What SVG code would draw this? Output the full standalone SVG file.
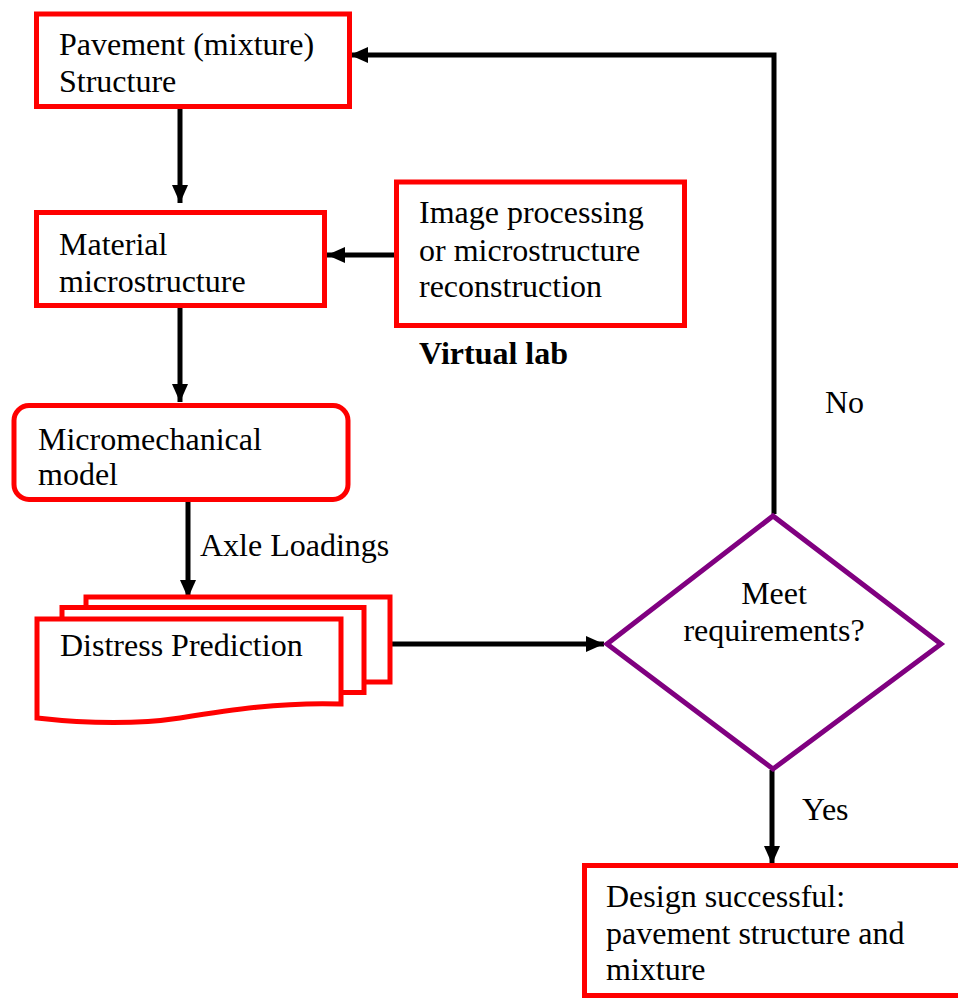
<svg xmlns="http://www.w3.org/2000/svg" width="958" height="998" viewBox="0 0 958 998">
<style>
.box{fill:#fff;stroke:#ff0000;stroke-width:5}
.dia{fill:#fff;stroke:#800080;stroke-width:5;stroke-linejoin:miter}
.conn{fill:none;stroke:#000;stroke-width:5}
text{font-family:"Liberation Serif","Times New Roman",serif;font-size:32px;fill:#000}
.bold{font-weight:bold}
</style>
<defs>
<marker id="ah" markerUnits="userSpaceOnUse" markerWidth="18" markerHeight="16" refX="18" refY="8" orient="auto">
<path d="M0,0 L18,8 L0,16 z" fill="#000"/>
</marker>
</defs>
<rect width="958" height="998" fill="#fff"/>
<g id="connectors">
<line class="conn" x1="180" y1="109" x2="180" y2="203" marker-end="url(#ah)"/>
<line class="conn" x1="396" y1="255" x2="327" y2="255" marker-end="url(#ah)"/>
<line class="conn" x1="180" y1="308" x2="180" y2="402" marker-end="url(#ah)"/>
<line class="conn" x1="188" y1="502" x2="188" y2="598" marker-end="url(#ah)"/>
<line class="conn" x1="392" y1="644" x2="604" y2="644" marker-end="url(#ah)"/>
<line class="conn" x1="772" y1="770" x2="772" y2="864" marker-end="url(#ah)"/>
<path class="conn" d="M774,514 V55 H350" marker-end="url(#ah)"/>
</g>
<g id="pavement">
<rect class="box" x="36.5" y="14" width="313" height="92.5"/>
<text x="59" y="55">Pavement (mixture)</text>
<text x="59" y="92">Structure</text>
</g>
<g id="material">
<rect class="box" x="36.5" y="212.5" width="288" height="93"/>
<text x="59" y="255">Material</text>
<text x="59" y="292">microstructure</text>
</g>
<g id="image">
<rect class="box" x="396.5" y="182" width="288" height="143.5"/>
<text x="419" y="223">Image processing</text>
<text x="419" y="261">or microstructure</text>
<text x="419" y="297">reconstruction</text>
</g>
<g id="virtual-lab">
<text class="bold" x="419" y="364">Virtual lab</text>
</g>
<g id="micromechanical">
<rect class="box" x="14" y="405.5" width="334" height="94" rx="15" ry="15"/>
<text x="38" y="450">Micromechanical</text>
<text x="38" y="485">model</text>
</g>
<g id="axle-label">
<text x="200" y="556">Axle Loadings</text>
</g>
<g id="distress">
<rect class="box" x="86" y="597" width="304" height="85"/>
<rect class="box" x="62" y="607.5" width="302" height="85"/>
<path class="box" d="M37,619 H341 V704 C280,702 230,710 180,718 C140,724 90,724 37,718 Z"/>
<text x="60" y="656">Distress Prediction</text>
</g>
<g id="decision">
<polygon class="dia" points="607,644 773,516 941,644 773,769"/>
<text x="774" y="604" text-anchor="middle">Meet</text>
<text x="774" y="641" text-anchor="middle">requirements?</text>
</g>
<g id="no-label">
<text x="825" y="413">No</text>
</g>
<g id="yes-label">
<text x="802" y="820">Yes</text>
</g>
<g id="success">
<rect class="box" x="584.5" y="865.5" width="380" height="130"/>
<text x="606" y="907">Design successful:</text>
<text x="606" y="944">pavement structure and</text>
<text x="606" y="980">mixture</text>
</g>
</svg>
